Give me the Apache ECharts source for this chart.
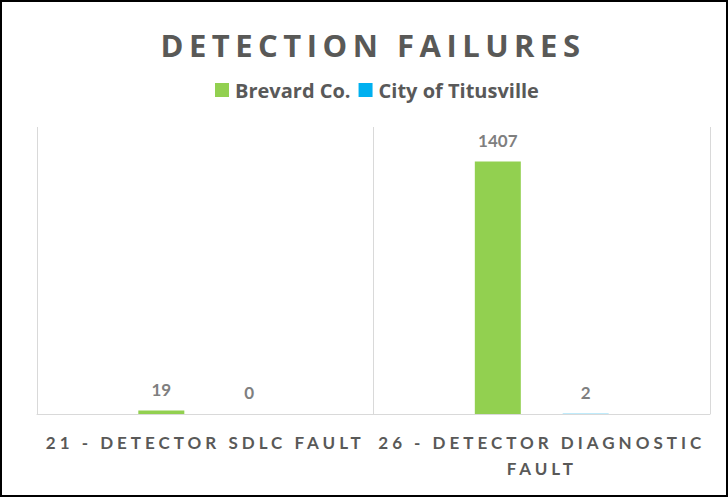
<!DOCTYPE html>
<html>
<head>
<meta charset="utf-8">
<script src="https://cdn.jsdelivr.net/npm/echarts@6/dist/echarts.min.js"></script>
<style>
  html, body { margin: 0; padding: 0; overflow: hidden; background: #fff; }
  #wrap { position: relative; width: 728px; height: 497px; }
  #chart { position: absolute; left: 0; top: 0; width: 728px; height: 497px; }
  #frame { position: absolute; left: 0; top: 0; width: 728px; height: 497px; box-sizing: border-box; border: 2px solid #000; pointer-events: none; }
  /* spaced capitals like the original */
  #chart text[fill="#595957"] { letter-spacing: 5.5px; }
  #chart text[fill="#595958"] { letter-spacing: 4px; }
</style>
</head>
<body>
<div id="wrap">
  <div id="chart"></div>
  <div id="frame"></div>
</div>
<script>
var categories = ['21 - Detector SDLC Fault', '26 - Detector Diagnostic Fault']
var brevard = [19, 1407]
var titusville = [0, 2]
var seriesNames = ['Brevard Co.', 'City of Titusville']

var font = 'Lato, "Open Sans", sans-serif'
var head_font = '"Open Sans", Lato, sans-serif'

// wrap long category names at the last space before max chars
function wrap_label(v) {
    var s = v.toUpperCase()
    var max = 26
    if (s.length <= max) return s
    var cut = s.lastIndexOf(' ', max)
    return s.slice(0, cut) + '\n' + s.slice(cut + 1)
}

var label_style = {
    show: true,
    position: 'top',
    distance: 13,
    color: '#7f7f7f',
    fontWeight: 'bold',
    fontSize: 17,
    fontFamily: font
}

var option = {
    animation: false,
    title: {
        text: 'DETECTION FAILURES',
        left: 368,
        top: 24,
        textAlign: 'center',
        textStyle: {
            color: '#595957',
            fontSize: 31,
            fontWeight: 'bold',
            fontFamily: head_font
        }
    },
    legend: {
        data: seriesNames,
        left: 210,
        top: 75,
        itemWidth: 14,
        itemHeight: 14,
        itemGap: 8,
        icon: 'rect',
        textStyle: {
            color: '#595959',
            fontSize: 20,
            fontWeight: 'bold',
            fontFamily: head_font,
            padding: [0, 0, 0, 1]
        }
    },
    grid: {
        left: 37,
        right: 18,
        top: 127,
        bottom: 83
    },
    xAxis: {
        type: 'category',
        data: categories,
        axisLine: { lineStyle: { color: '#d9d9d9', width: 1 } },
        axisTick: { show: false },
        splitLine: { show: true, interval: 0, lineStyle: { color: '#d9d9d9', width: 1 } },
        axisLabel: {
            interval: 0,
            margin: 15,
            color: '#595958',
            fontSize: 17,
            fontWeight: 'bold',
            fontFamily: font,
            lineHeight: 26,
            formatter: wrap_label
        }
    },
    yAxis: {
        type: 'value',
        min: 0,
        max: 1600,
        show: false,
        splitLine: { show: false }
    },
    series: [
        {
            name: seriesNames[0],
            type: 'bar',
            data: brevard,
            barWidth: 46,
            barGap: '91%',
            itemStyle: { color: '#92d050' },
            label: label_style
        },
        {
            name: seriesNames[1],
            type: 'bar',
            data: titusville,
            barWidth: 46,
            itemStyle: { color: '#00b0f0' },
            label: label_style
        }
    ]
}

var chart = echarts.init(document.getElementById('chart'), null, { renderer: 'svg' })
chart.setOption(option)
</script>
</body>
</html>
